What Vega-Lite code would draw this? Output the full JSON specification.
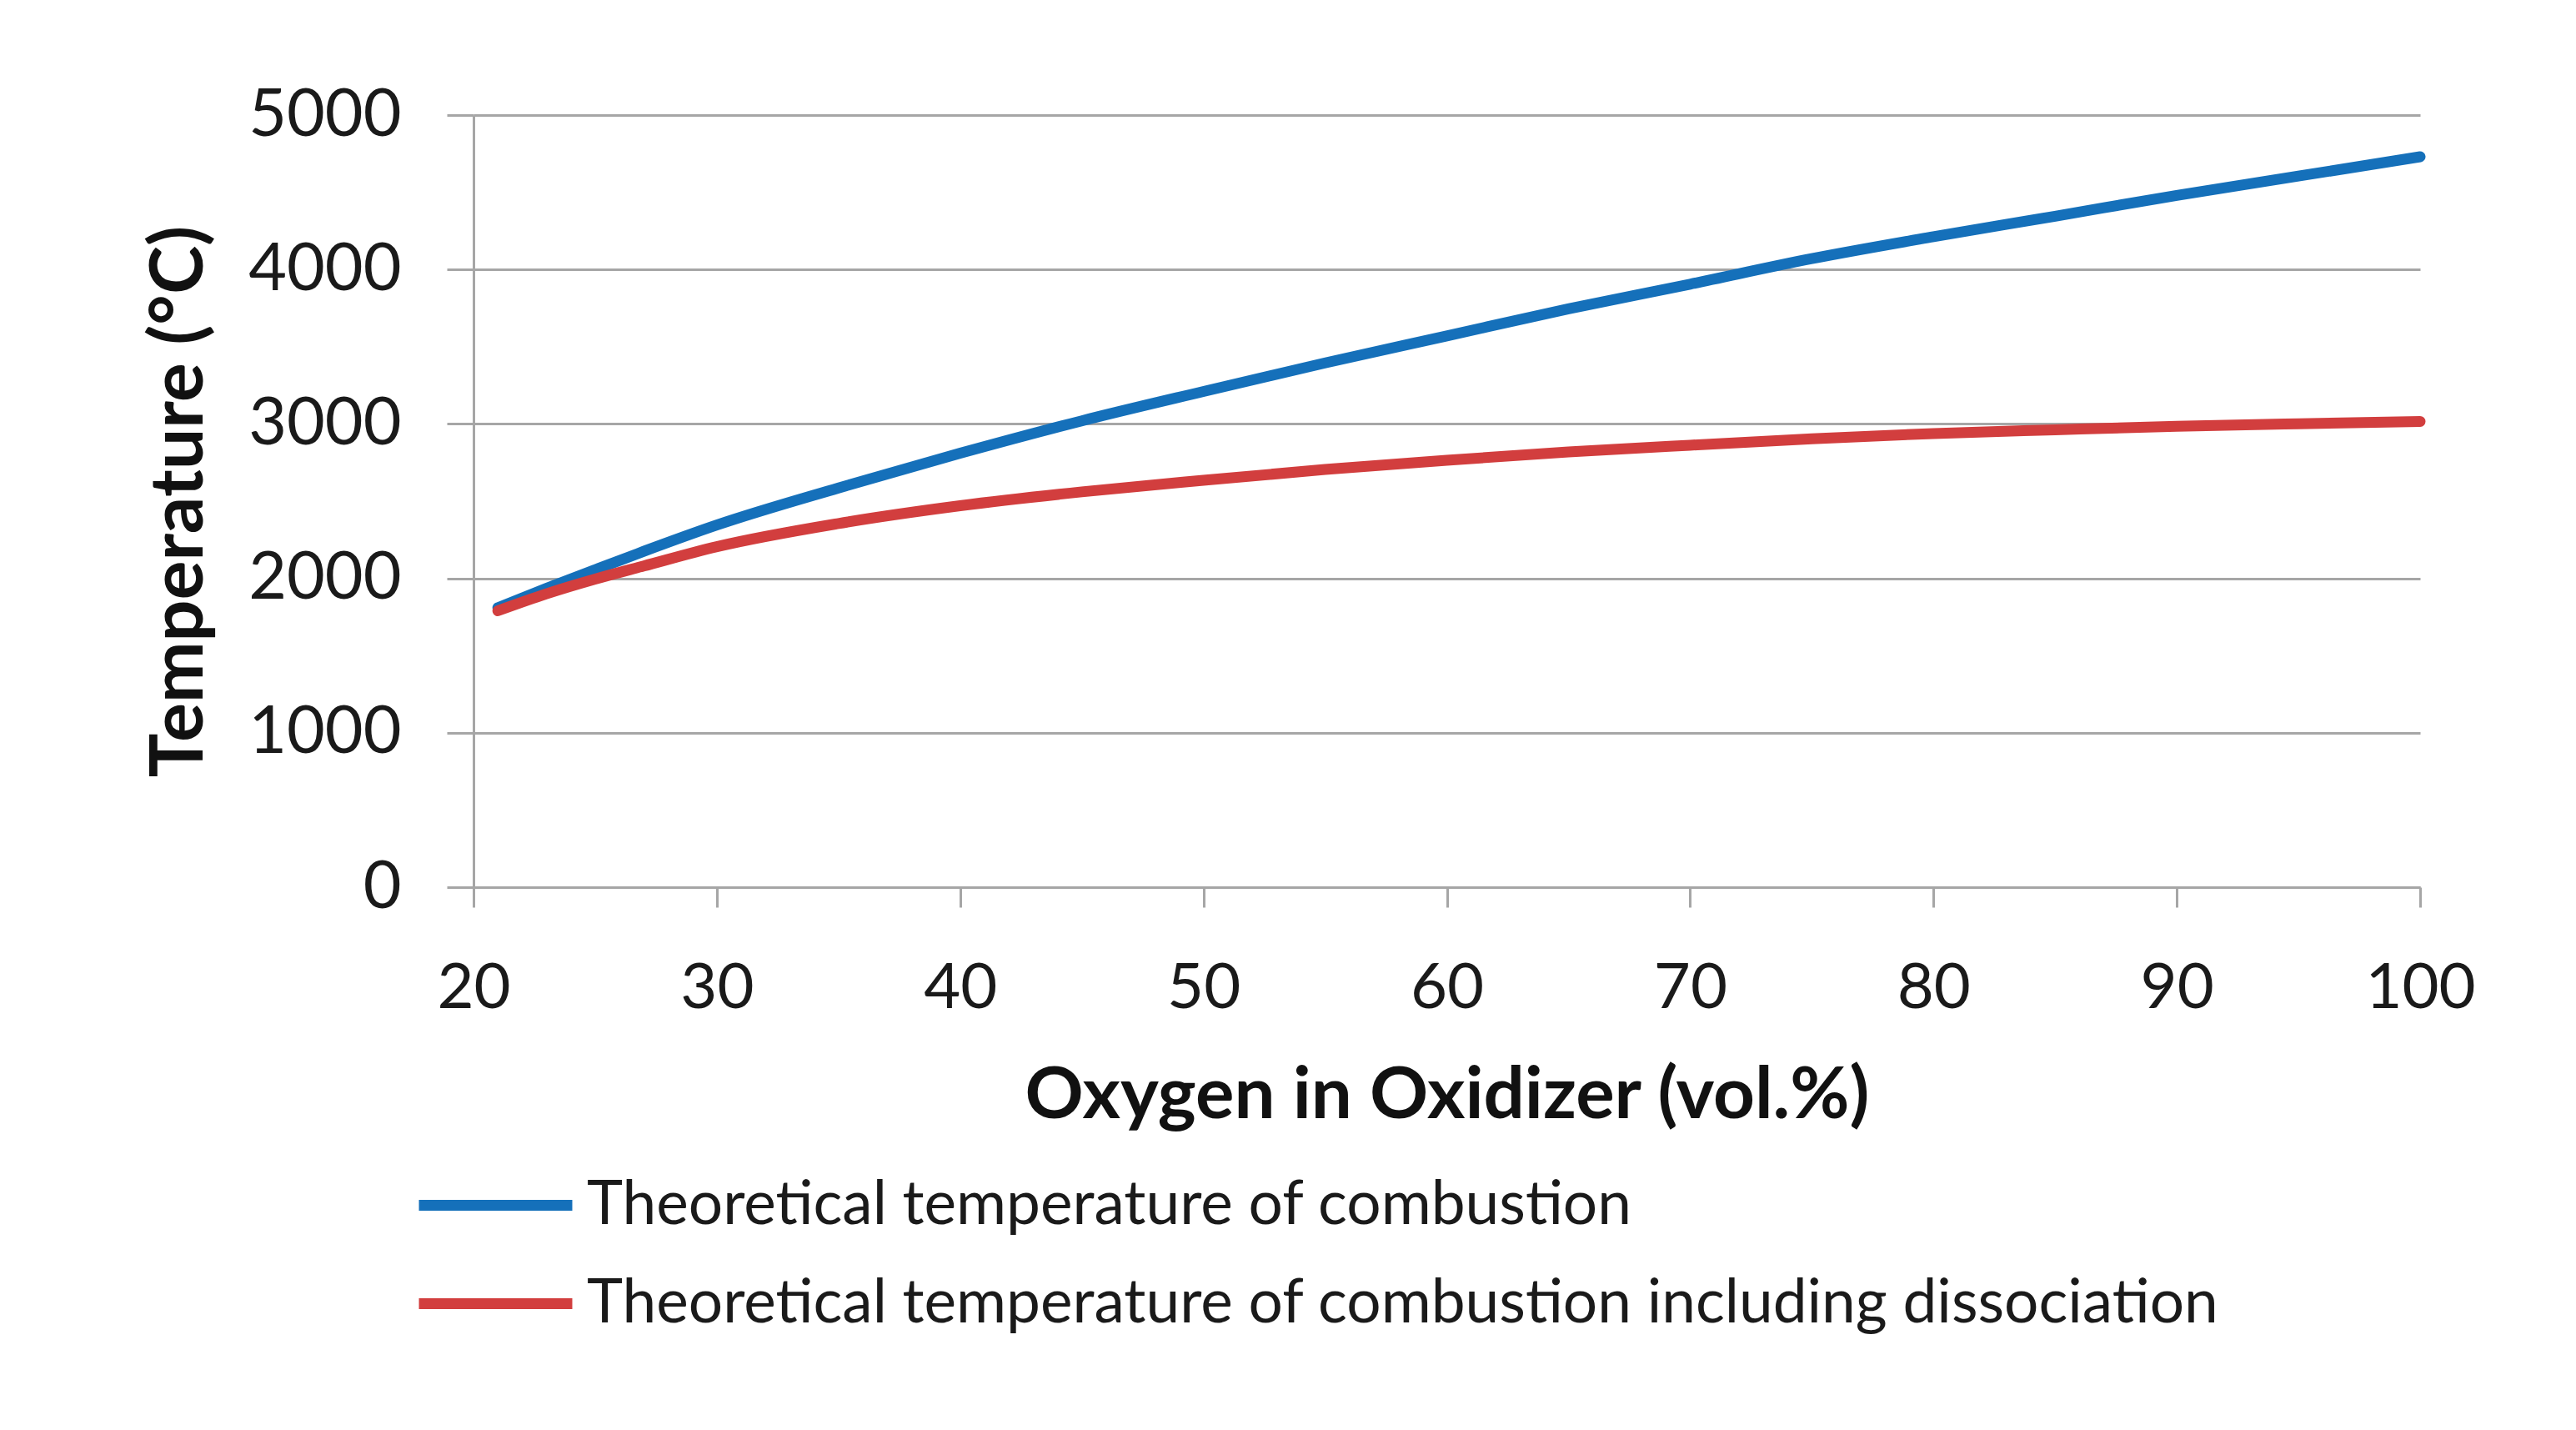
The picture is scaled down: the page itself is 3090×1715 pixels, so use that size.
{
  "$schema": "https://vega.github.io/schema/vega-lite/v6.json",
  "width": 2335,
  "height": 926,
  "autosize": {"type": "none"},
  "padding": {"left": 568, "top": 138, "right": 187, "bottom": 651},
  "background": "white",
  "config": {
    "font": "Lato",
    "view": {"stroke": null},
    "axis": {
      "labelFont": "Lato",
      "titleFont": "Lato",
      "labelColor": "#1a1a1a",
      "titleColor": "#111111",
      "gridColor": "#a6a6a6",
      "gridWidth": 3,
      "domainColor": "#a6a6a6",
      "domainWidth": 3,
      "tickColor": "#a6a6a6",
      "tickWidth": 3,
      "labelLimit": 1000
    },
    "legend": {"labelFont": "Lato"}
  },
  "data": {
    "values": [
      {"o2": 21, "T": 1810, "series": "Theoretical temperature of combustion"},
      {"o2": 23, "T": 1935, "series": "Theoretical temperature of combustion"},
      {"o2": 25, "T": 2056, "series": "Theoretical temperature of combustion"},
      {"o2": 27, "T": 2175, "series": "Theoretical temperature of combustion"},
      {"o2": 30, "T": 2345, "series": "Theoretical temperature of combustion"},
      {"o2": 35, "T": 2585, "series": "Theoretical temperature of combustion"},
      {"o2": 40, "T": 2810, "series": "Theoretical temperature of combustion"},
      {"o2": 45, "T": 3020, "series": "Theoretical temperature of combustion"},
      {"o2": 50, "T": 3210, "series": "Theoretical temperature of combustion"},
      {"o2": 55, "T": 3395, "series": "Theoretical temperature of combustion"},
      {"o2": 60, "T": 3570, "series": "Theoretical temperature of combustion"},
      {"o2": 65, "T": 3745, "series": "Theoretical temperature of combustion"},
      {"o2": 70, "T": 3905, "series": "Theoretical temperature of combustion"},
      {"o2": 75, "T": 4070, "series": "Theoretical temperature of combustion"},
      {"o2": 80, "T": 4212, "series": "Theoretical temperature of combustion"},
      {"o2": 85, "T": 4345, "series": "Theoretical temperature of combustion"},
      {"o2": 90, "T": 4480, "series": "Theoretical temperature of combustion"},
      {"o2": 95, "T": 4605, "series": "Theoretical temperature of combustion"},
      {"o2": 100, "T": 4730, "series": "Theoretical temperature of combustion"},
      {"o2": 21, "T": 1790, "series": "Theoretical temperature of combustion including dissociation"},
      {"o2": 23, "T": 1900, "series": "Theoretical temperature of combustion including dissociation"},
      {"o2": 25, "T": 1995, "series": "Theoretical temperature of combustion including dissociation"},
      {"o2": 27, "T": 2080, "series": "Theoretical temperature of combustion including dissociation"},
      {"o2": 30, "T": 2205, "series": "Theoretical temperature of combustion including dissociation"},
      {"o2": 35, "T": 2355, "series": "Theoretical temperature of combustion including dissociation"},
      {"o2": 40, "T": 2470, "series": "Theoretical temperature of combustion including dissociation"},
      {"o2": 45, "T": 2560, "series": "Theoretical temperature of combustion including dissociation"},
      {"o2": 50, "T": 2635, "series": "Theoretical temperature of combustion including dissociation"},
      {"o2": 55, "T": 2705, "series": "Theoretical temperature of combustion including dissociation"},
      {"o2": 60, "T": 2765, "series": "Theoretical temperature of combustion including dissociation"},
      {"o2": 65, "T": 2818, "series": "Theoretical temperature of combustion including dissociation"},
      {"o2": 70, "T": 2862, "series": "Theoretical temperature of combustion including dissociation"},
      {"o2": 75, "T": 2903, "series": "Theoretical temperature of combustion including dissociation"},
      {"o2": 80, "T": 2938, "series": "Theoretical temperature of combustion including dissociation"},
      {"o2": 85, "T": 2962, "series": "Theoretical temperature of combustion including dissociation"},
      {"o2": 90, "T": 2984, "series": "Theoretical temperature of combustion including dissociation"},
      {"o2": 95, "T": 3001, "series": "Theoretical temperature of combustion including dissociation"},
      {"o2": 100, "T": 3016, "series": "Theoretical temperature of combustion including dissociation"}
    ]
  },
  "mark": {"type": "line", "strokeWidth": 13, "interpolate": "monotone", "strokeCap": "round"},
  "encoding": {
    "x": {
      "field": "o2",
      "type": "quantitative",
      "scale": {"domain": [20, 100], "nice": false, "zero": false},
      "axis": {
        "title": "Oxygen  in Oxidizer (vol.%)",
        "values": [20, 30, 40, 50, 60, 70, 80, 90, 100],
        "grid": false,
        "labelFlush": false,
        "labelOverlap": false,
        "tickSize": 24,
        "labelFontSize": 76,
        "labelPadding": 60,
        "titleFontSize": 87,
        "titleFontWeight": "bold",
        "titlePadding": 48
      }
    },
    "y": {
      "field": "T",
      "type": "quantitative",
      "scale": {"domain": [0, 5000], "nice": false},
      "axis": {
        "title": "Temperature (°C)",
        "values": [0, 1000, 2000, 3000, 4000, 5000],
        "format": "d",
        "grid": true,
        "tickSize": 32,
        "labelFontSize": 79,
        "labelPadding": 55,
        "titleFontSize": 88,
        "titleFontWeight": "bold",
        "titleX": -352,
        "titleY": 463,
        "titleBaseline": "middle",
        "titleAngle": -90,
        "titleAlign": "center"
      }
    },
    "color": {
      "field": "series",
      "type": "nominal",
      "scale": {
        "domain": ["Theoretical temperature of combustion", "Theoretical temperature of combustion including dissociation"],
        "range": ["#1570BA", "#D23E3E"]
      },
      "legend": {
        "title": null,
        "orient": "none",
        "legendX": -54,
        "legendY": 1227,
        "direction": "vertical",
        "symbolType": "M-1.243,0H1.243",
        "symbolSize": 21904,
        "symbolStrokeWidth": 13,
        "labelFontSize": 73,
        "labelColor": "#1a1a1a",
        "labelOffset": 29,
        "rowPadding": 0,
        "padding": 0,
        "labelLimit": 3000
      }
    }
  }
}
